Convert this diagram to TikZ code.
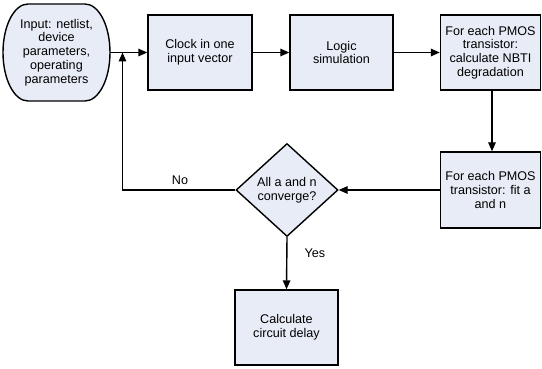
\documentclass[tikz,border=0pt]{standalone}
\usepackage{fontspec}
\setmainfont{Liberation Sans}
\usetikzlibrary{shapes.geometric,arrows.meta}
\definecolor{boxfill}{RGB}{232,236,246}
\tikzset{
  base/.style={font=\fontsize{12.6}{13.8}\selectfont, align=center},
  procbox/.style={base, draw=black, line width=1.4pt, fill=boxfill, rectangle,
    inner sep=0pt, minimum width=#1, minimum height=75},
  decision/.style={base, draw=black, line width=1.4pt, fill=boxfill, diamond,
    inner sep=0pt, minimum width=102, minimum height=93},
  arr/.style={line width=1.4pt, -{Triangle[length=9pt,width=7.5pt]}},
  lbl/.style={base}
}
\begin{document}
\begin{tikzpicture}[x=1pt,y=-1pt]
\useasboundingbox (0,0) rectangle (542,369);

% start terminator: flat top and bottom, elliptical sides
\draw[line width=1.4pt, fill=boxfill]
  (28,4) -- (85,4)
  .. controls (98.8,4) and (110,25.7) .. (110,52.5)
  .. controls (110,79.3) and (98.8,101) .. (85,101)
  -- (28,101)
  .. controls (14.2,101) and (3,79.3) .. (3,52.5)
  .. controls (3,25.7) and (14.2,4) .. (28,4) -- cycle;
\node[base, minimum width=107, minimum height=97, inner sep=0pt] (inp) at (56.5,52.5)
  {Input: netlist,\\device\\parameters,\\operating\\parameters};

\node[procbox=104] (clk) at (200,52.5) {Clock in one\\input vector};
\node[procbox=103] (sim) at (341.5,52.5) {Logic\\simulation};
\node[procbox=100] (nbti) at (490.5,52.5) {For each PMOS\\transistor:\\calculate NBTI\\degradation};
\node[procbox=100, minimum height=76] (fit) at (490.5,190) {For each PMOS\\transistor: fit a\\and n};
\node[decision] (dia) at (287,190) {All a and n\\[0.5pt]converge?};
\node[procbox=103] (calc) at (286.5,327.5) {Calculate\\circuit delay};

\coordinate (j) at (122.5,52.5);

\draw[arr] (inp.east) -- (clk.west);
\draw[arr] (clk.east) -- (sim.west);
\draw[arr] (sim.east) -- (nbti.west);
\draw[arr] ([xshift=1.5pt]nbti.south) -- ([xshift=1.5pt]fit.north);
\draw[arr] (fit.west) -- (dia.east);
\draw[arr] (dia.south) -- (calc.north);
\draw[arr] (dia.west) -| (j);

\node[lbl] (no) at (180,180) {No};
\node[lbl] (yes) at (315,253) {Yes};
\end{tikzpicture}
\end{document}
